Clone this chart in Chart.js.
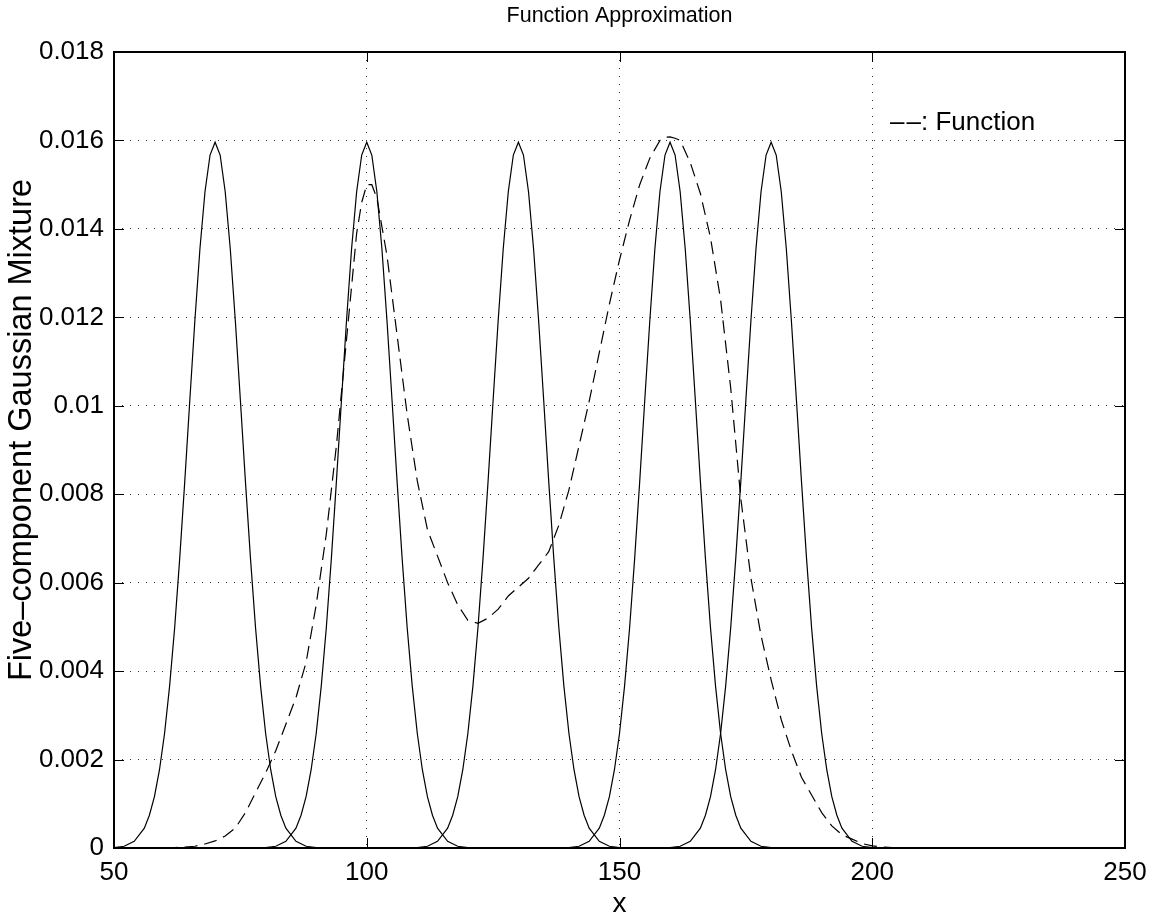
<!DOCTYPE html>
<html>
<head>
<meta charset="utf-8">
<title>Function Approximation</title>
<script src="https://cdn.jsdelivr.net/npm/chart.js@4.4.0/dist/chart.umd.min.js"></script>
<style>
  html, body { margin: 0; padding: 0; background: #fff; }
  #chart { display: block; }
</style>
</head>
<body>
<canvas id="chart" width="1156" height="919"></canvas>
<script>
// axis ticks
const xTicks = [50, 100, 150, 200, 250];
const yTicks = [0, 0.002, 0.004, 0.006, 0.008, 0.01, 0.012, 0.014, 0.016, 0.018];

// the five gaussian components (solid), read around each centre
const componentCenters = [70, 100, 130, 160, 180];
const bumpOffsets = [-20, -18, -16, -14, -13, -12, -11, -10, -9, -8, -7, -6, -5, -4, -3, -2, -1, 0,
  1, 2, 3, 4, 5, 6, 7, 8, 9, 10, 11, 12, 13, 14, 16, 18, 20];
const comp1Y = [0.00001, 0.00004, 0.00015, 0.00045, 0.00074, 0.00116, 0.00177, 0.00259, 0.00366, 0.00498, 0.00655, 0.00829,
  0.01013, 0.01193, 0.01355, 0.01484, 0.01567, 0.01596, 0.01567, 0.01484, 0.01355, 0.01193, 0.01013, 0.00829,
  0.00655, 0.00498, 0.00366, 0.00259, 0.00177, 0.00116, 0.00074, 0.00045, 0.00015, 0.00004, 0.00001];
const comp2Y = [0.00001, 0.00004, 0.00015, 0.00045, 0.00074, 0.00116, 0.00177, 0.00259, 0.00366, 0.00498, 0.00655, 0.00829,
  0.01013, 0.01193, 0.01355, 0.01484, 0.01567, 0.01596, 0.01567, 0.01484, 0.01355, 0.01193, 0.01013, 0.00829,
  0.00655, 0.00498, 0.00366, 0.00259, 0.00177, 0.00116, 0.00074, 0.00045, 0.00015, 0.00004, 0.00001];
const comp3Y = [0.00001, 0.00004, 0.00015, 0.00045, 0.00074, 0.00116, 0.00177, 0.00259, 0.00366, 0.00498, 0.00655, 0.00829,
  0.01013, 0.01193, 0.01355, 0.01484, 0.01567, 0.01596, 0.01567, 0.01484, 0.01355, 0.01193, 0.01013, 0.00829,
  0.00655, 0.00498, 0.00366, 0.00259, 0.00177, 0.00116, 0.00074, 0.00045, 0.00015, 0.00004, 0.00001];
const comp4Y = [0.00001, 0.00004, 0.00015, 0.00045, 0.00074, 0.00116, 0.00177, 0.00259, 0.00366, 0.00498, 0.00655, 0.00829,
  0.01013, 0.01193, 0.01355, 0.01484, 0.01567, 0.01596, 0.01567, 0.01484, 0.01355, 0.01193, 0.01013, 0.00829,
  0.00655, 0.00498, 0.00366, 0.00259, 0.00177, 0.00116, 0.00074, 0.00045, 0.00015, 0.00004, 0.00001];
const comp5Y = [0.00001, 0.00004, 0.00015, 0.00045, 0.00074, 0.00116, 0.00177, 0.00259, 0.00366, 0.00498, 0.00655, 0.00829,
  0.01013, 0.01193, 0.01355, 0.01484, 0.01567, 0.01596, 0.01567, 0.01484, 0.01355, 0.01193, 0.01013, 0.00829,
  0.00655, 0.00498, 0.00366, 0.00259, 0.00177, 0.00116, 0.00074, 0.00045, 0.00015, 0.00004, 0.00001];

// the target function (dashed)
const fnX = [60, 62, 64, 66, 68, 70, 72, 74, 76, 78, 80, 82, 84, 86, 88, 90, 92, 94, 96, 98, 99, 100, 101, 102,
  104, 106, 108, 110, 112, 114, 116, 118, 120, 122, 124, 126, 128, 130, 132, 134, 136, 138, 140, 142, 144,
  146, 148, 150, 152, 154, 156, 158, 159, 160, 161, 162, 164, 166, 168, 170, 172, 174, 176, 178, 180, 182,
  184, 186, 188, 190, 192, 194, 196, 198, 200, 202, 204, 206];
const fnY = [0, 0.00001, 0.00002, 0.00004, 0.00009, 0.00016, 0.00027, 0.00045, 0.0008, 0.00125, 0.0017, 0.0022,
  0.0028, 0.0034, 0.0042, 0.0055, 0.0071, 0.0091, 0.0115, 0.0139, 0.0146, 0.0150, 0.0150, 0.0147,
  0.0134, 0.0116, 0.0098, 0.0083, 0.0072, 0.0066, 0.0060, 0.0055, 0.00515, 0.00508, 0.0052, 0.0054, 0.0057,
  0.0059, 0.0061, 0.0064, 0.0067, 0.0073, 0.0081, 0.0091, 0.0101, 0.0112, 0.0123, 0.0133, 0.0142, 0.0150,
  0.0156, 0.0160, 0.01607, 0.01608, 0.01605, 0.0160, 0.0155, 0.0148, 0.0138, 0.0124, 0.0104, 0.0079,
  0.0061, 0.0048, 0.0038, 0.0029, 0.0022, 0.0016, 0.0012, 0.0008, 0.0005, 0.0003, 0.0002, 0.0001,
  0.00005, 0.00002, 0.00001, 0];

const yLabelText = 'Five\u2013component Gaussian Mixture';
const legendText = '\u2013\u200a\u2013: Function';
const legendAt = [203.5, 0.0164];

const FONT = '"Liberation Sans", Arial, Helvetica, sans-serif';
Chart.defaults.font.family = FONT;
Chart.defaults.color = '#000';

const toPoints = (xs, ys) => xs.map((x, i) => ({ x: x, y: ys[i] }));

const components = [comp1Y, comp2Y, comp3Y, comp4Y, comp5Y].map((ys, k) => ({
  label: 'Component ' + (k + 1),
  data: toPoints(bumpOffsets.map(o => componentCenters[k] + o), ys),
  borderColor: '#000',
  borderWidth: 1.2,
  pointRadius: 0,
  tension: 0,
  fill: false
}));

const functionLine = {
  label: 'Function',
  data: toPoints(fnX, fnY),
  borderColor: '#000',
  borderWidth: 1.2,
  borderDash: [13, 7],
  pointRadius: 0,
  tension: 0,
  fill: false
};

// matlab style box, inward ticks, y label and the text label
const matlabAxes = {
  id: 'matlabAxes',
  afterDatasetsDraw(chart) {
    const { ctx, chartArea: a, scales: { x, y } } = chart;
    ctx.save();
    ctx.strokeStyle = '#000';
    ctx.lineWidth = 1;
    ctx.beginPath();
    xTicks.forEach(v => {
      const px = Math.round(x.getPixelForValue(v)) + 0.5;
      ctx.moveTo(px, a.bottom); ctx.lineTo(px, a.bottom - 10);
      ctx.moveTo(px, a.top); ctx.lineTo(px, a.top + 10);
    });
    yTicks.forEach(v => {
      const py = Math.round(y.getPixelForValue(v)) + 0.5;
      ctx.moveTo(a.left, py); ctx.lineTo(a.left + 10, py);
      ctx.moveTo(a.right, py); ctx.lineTo(a.right - 10, py);
    });
    ctx.stroke();
    ctx.lineWidth = 2;
    ctx.strokeRect(a.left, a.top, a.right - a.left, a.bottom - a.top);

    ctx.fillStyle = '#000';
    ctx.font = '26px ' + FONT;
    ctx.textAlign = 'left';
    ctx.textBaseline = 'middle';
    ctx.fillText(legendText, x.getPixelForValue(legendAt[0]), y.getPixelForValue(legendAt[1]));

    // y label sits a little above the axis middle in the original
    ctx.font = '32.5px ' + FONT;
    ctx.textAlign = 'center';
    ctx.translate(22, 430);
    ctx.rotate(-Math.PI / 2);
    ctx.fillText(yLabelText, 0, 0);
    ctx.restore();
  }
};

new Chart(document.getElementById('chart').getContext('2d'), {
  type: 'line',
  data: { datasets: [...components, functionLine] },
  options: {
    responsive: false,
    animation: false,
    devicePixelRatio: 1,
    layout: { padding: { left: 0, right: 31, top: 0, bottom: 0 } },
    plugins: {
      legend: { display: false },
      tooltip: { enabled: false },
      title: {
        display: true,
        fullSize: false,
        text: 'Function Approximation',
        color: '#000',
        font: { size: 21.5, weight: 'normal' },
        padding: { top: 3, bottom: 23.2 }
      }
    },
    scales: {
      x: {
        type: 'linear',
        min: 50,
        max: 250,
        afterBuildTicks: s => { s.ticks = xTicks.map(v => ({ value: v })); },
        afterFit: s => { s.height = 71; },
        ticks: { padding: 9, maxRotation: 0, font: { size: 26 }, color: '#000' },
        grid: { color: '#333', lineWidth: 1, drawTicks: false },
        border: { display: false, dash: [1, 7] },
        title: { display: true, text: 'x', font: { size: 28 }, color: '#000', padding: { top: 0, bottom: -2 } }
      },
      y: {
        min: 0,
        max: 0.018,
        afterBuildTicks: s => { s.ticks = yTicks.map(v => ({ value: v })); },
        afterFit: s => { s.width = 114; },
        ticks: {
          padding: 10,
          font: { size: 26 },
          color: '#000',
          callback: v => String(parseFloat(v.toFixed(3)))
        },
        grid: { color: '#333', lineWidth: 1, drawTicks: false },
        border: { display: false, dash: [1, 7] }
      }
    }
  },
  plugins: [matlabAxes]
});
</script>
</body>
</html>
